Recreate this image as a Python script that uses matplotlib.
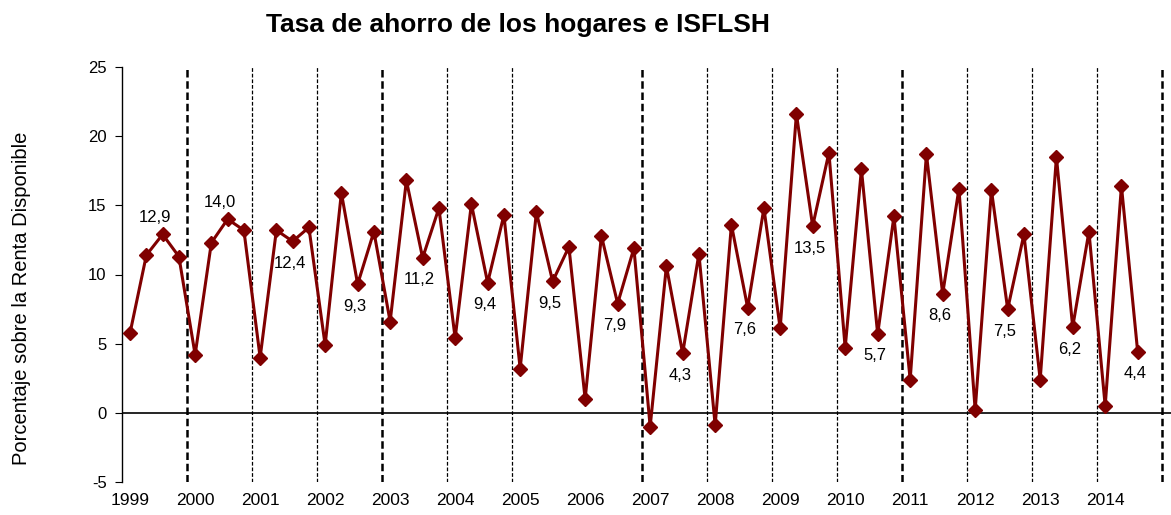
import matplotlib
matplotlib.use('Agg')
import matplotlib.pyplot as plt
import numpy as np

plt.rcParams['font.family'] = ['Liberation Sans', 'DejaVu Sans']
plt.rcParams['axes.unicode_minus'] = False

# Quarterly savings rate, 1999Q1 - 2014Q3
years = list(range(1999, 2015))
tasa = [
    5.8, 11.4, 12.9, 11.3,    # 1999
    4.2, 12.3, 14.0, 13.2,    # 2000
    4.0, 13.2, 12.4, 13.4,    # 2001
    4.9, 15.9, 9.3, 13.1,     # 2002
    6.6, 16.8, 11.2, 14.8,    # 2003
    5.4, 15.1, 9.4, 14.3,     # 2004
    3.2, 14.5, 9.5, 12.0,     # 2005
    1.0, 12.8, 7.9, 11.9,     # 2006
    -1.0, 10.6, 4.3, 11.5,    # 2007
    -0.9, 13.6, 7.6, 14.8,    # 2008
    6.1, 21.6, 13.5, 18.8,    # 2009
    4.7, 17.6, 5.7, 14.2,     # 2010
    2.4, 18.7, 8.6, 16.2,     # 2011
    0.2, 16.1, 7.5, 12.9,     # 2012
    2.4, 18.5, 6.2, 13.1,     # 2013
    0.5, 16.4, 4.4,           # 2014
]
# year boundaries that carry a dashed separator (none drawn at 2006)
separator_years = [2000, 2001, 2002, 2003, 2004, 2005, 2007, 2008,
                   2009, 2010, 2011, 2012, 2013, 2014, 2015]
heavy_separators = [2000, 2003, 2007, 2011, 2015]
labels_above = [1999, 2000]

W, H = 1171, 515
fig = plt.figure(figsize=(W / 100, H / 100), dpi=100)
ax = fig.add_axes([122 / W, (H - 482) / H, 1 - 122 / W, (482 - 67) / H])

x = np.arange(len(tasa))
color = '#800000'

ax.plot(x, tasa, color=color, linewidth=2.2, marker='D', markersize=7,
        markeredgecolor=color, markerfacecolor=color, zorder=5)

# zero line
ax.axhline(0, color='black', linewidth=1.2, zorder=2)

# year separators
for yr in separator_years:
    xb = (yr - years[0]) * 4 - 0.5
    lw = 1.8 if yr in heavy_separators else 0.9
    ax.axvline(xb, color='black', linewidth=lw, linestyle=(0, (3, 1.5)), zorder=1)

# Q3 data labels
for i, yr in enumerate(years):
    idx = i * 4 + 2
    if idx >= len(tasa):
        continue
    v = tasa[idx]
    txt = f'{v:.1f}'.replace('.', ',')
    if yr in labels_above:
        off = (-8, 17)
    else:
        off = (-3, -22)
    ax.annotate(txt, (x[idx], v), xytext=off, textcoords='offset pixels',
                ha='center', va='center', fontsize=12, zorder=6)

ax.set_xlim(-0.5, 64.05)
ax.set_ylim(-5, 25)
ax.set_yticks(np.arange(-5, 26, 5))
ax.set_xticks([(yr - years[0]) * 4 for yr in years])
ax.set_xticklabels([str(yr) for yr in years], fontsize=12.5)
ax.tick_params(axis='x', length=0, pad=8)
ax.tick_params(axis='y', direction='out', length=5, labelsize=12, pad=6)

for s in ['top', 'right', 'bottom']:
    ax.spines[s].set_visible(False)
ax.spines['left'].set_linewidth(1.0)

fig.text(518 / W, 1 - 25 / H, 'Tasa de ahorro de los hogares e ISFLSH',
         ha='center', va='center', fontsize=19, fontweight='bold')
fig.text(22 / W, 1 - 298 / H, 'Porcentaje sobre la Renta Disponible',
         ha='center', va='center', rotation=90, fontsize=14.5)

fig.savefig('out.png', dpi=100)
